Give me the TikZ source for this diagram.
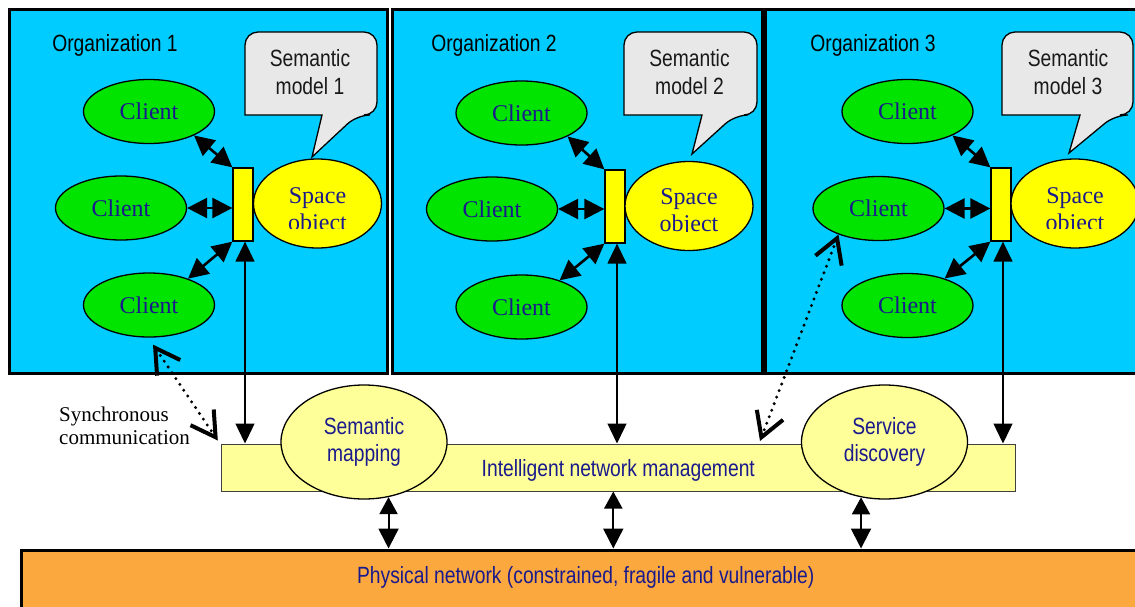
\documentclass[tikz,border=0pt]{standalone}
\usepackage{fontspec}
\setmainfont{Liberation Serif}
\newfontfamily\narrowsans[FakeStretch=0.82]{Liberation Sans}
\usetikzlibrary{shapes.geometric,arrows.meta}

\definecolor{orgblue}{HTML}{00CCFF}
\definecolor{clientgreen}{HTML}{00E400}
\definecolor{baryellow}{HTML}{FFFF00}
\definecolor{paleyellow}{HTML}{FFFF99}
\definecolor{bubblegray}{HTML}{E8E8E8}
\definecolor{netorange}{HTML}{FBA93F}
\definecolor{inkblue}{HTML}{1A1A8C}

\tikzset{
  orgbox/.style={rectangle, draw=black, line width=3pt, fill=orgblue, inner sep=0pt, outer sep=0pt},
  orgtitle/.style={inner sep=0pt, text=black, font=\narrowsans\fontsize{23.5}{28}\selectfont},
  bubble/.style={draw=black, line width=1.3pt, fill=bubblegray},
  bubbletext/.style={inner sep=0pt, align=center, text=black!90, font=\narrowsans\fontsize{23.5}{28.3}\selectfont},
  client/.style={ellipse, draw=black, line width=1.3pt, fill=clientgreen, minimum width=131pt, minimum height=64pt, inner sep=0pt, text=inkblue, font=\fontsize{24}{26}\selectfont},
  portbar/.style={rectangle, draw=black, line width=1.3pt, fill=baryellow, minimum width=20pt, minimum height=73pt, inner sep=0pt},
  spaceobj/.style={ellipse, draw=black, line width=1.3pt, fill=baryellow, minimum width=128pt, minimum height=89pt, inner sep=0pt},
  sotext/.style={inner sep=0pt, align=center, text=inkblue, font=\fontsize{24}{27}\selectfont},
  service/.style={ellipse, draw=black, line width=1.3pt, fill=paleyellow, minimum width=166pt, minimum height=114pt, inner sep=0pt, align=center, text=inkblue, font=\narrowsans\fontsize{23.5}{27}\selectfont},
  bighead/.style={Triangle[length=20pt,width=20pt]},
  link/.style={line width=2.6pt, {Triangle[length=20pt,width=20pt]}-{Triangle[length=20pt,width=20pt]}},
  uplink/.style={line width=1.4pt, {Triangle[length=20pt,width=19pt]}-{Triangle[length=20pt,width=19pt]}},
  downlink/.style={line width=2pt, {Triangle[length=17pt,width=18pt]}-{Triangle[length=20pt,width=20pt]}},
  sync/.style={line width=3.3pt, line cap=round, dash pattern=on 0pt off 7pt,
    {Straight Barb[length=24pt,width=28pt,line width=4pt]}-{Straight Barb[length=24pt,width=28pt,line width=4pt]}},
}

\begin{document}
\begin{tikzpicture}[x=1pt,y=-1pt]
\useasboundingbox (0,0) rectangle (1135,606);
\clip (0,0) rectangle (1135,606);
\fill[white] (0,0) rectangle (1135,606);

% organisations
\node[orgbox, minimum width=378.5pt, minimum height=364pt] (org1) at (198.25,191) {};
\node[orgbox, minimum width=369.5pt, minimum height=364pt] (org2) at (577.25,191) {};
\node[orgbox, minimum width=381pt, minimum height=364pt] (org3) at (956,191) {};

\node[orgtitle] (title1) at (115,45.6) {Organization 1};
\node[orgtitle] (title2) at (494,45.6) {Organization 2};
\node[orgtitle] (title3) at (873,45.6) {Organization 3};

% speech bubbles with the semantic models
\draw[bubble] (312,157) -- (322,115) -- (245,115) [rounded corners=13pt] -- (245,32) -- (377,32) -- (377,115) -- (357,115) [sharp corners] -- cycle;
\draw[bubble] (692,154) -- (702,115) -- (624,115) [rounded corners=13pt] -- (624,32) -- (757,32) -- (757,115) -- (735,115) [sharp corners] -- cycle;
\draw[bubble] (1069,153) -- (1080,115) -- (1002,115) [rounded corners=13pt] -- (1002,32) -- (1133,32) -- (1133,115) -- (1115,115) [sharp corners] -- cycle;
\node[bubbletext] (model1) at (310,72.2) {Semantic\\model 1};
\node[bubbletext] (model2) at (689.5,72.2) {Semantic\\model 2};
\node[bubbletext] (model3) at (1068,72.2) {Semantic\\model 3};

% clients
\node[client] (c11) at (149,111.5) {Client};
\node[client] (c12) at (121,208) {Client};
\node[client] (c13) at (149,305) {Client};
\node[client] (c21) at (521.5,113) {Client};
\node[client] (c22) at (492,209) {Client};
\node[client] (c23) at (521.5,307) {Client};
\node[client] (c31) at (907.5,111.5) {Client};
\node[client] (c32) at (878.5,208.5) {Client};
\node[client] (c33) at (907.5,305.5) {Client};

% access bars and space objects
\node[portbar] (b1) at (243,204.5) {};
\node[portbar] (b2) at (615,206.5) {};
\node[portbar] (b3) at (1001,204.5) {};
\node[spaceobj] (s1) at (317.5,203.5) {};
\node[spaceobj] (s2) at (689,206) {};
\node[spaceobj] (s3) at (1075,203.5) {};
\begin{scope}
  \clip (250,150) rectangle (390,228);
  \node[sotext] (t1) at (317.5,212) {Space\\object};
\end{scope}
\begin{scope}
  \clip (620,150) rectangle (760,231);
  \node[sotext] (t2) at (689,213) {Space\\object};
\end{scope}
\begin{scope}
  \clip (1008,150) rectangle (1140,228);
  \node[sotext] (t3) at (1075,212) {Space\\object};
\end{scope}

% client links
\draw[link] (c11.-28) -- (b1.north west);
\draw[link] (c12.east) -- (c12.east -| b1.west);
\draw[link] (b1.south west) -- (c13.34);
\draw[link] (c21.-27) -- (b2.north west);
\draw[link] (c22.east) -- (c22.east -| b2.west);
\draw[link] (b2.south west) -- (c23.35);
\draw[link] (c31.-28) -- (b3.north west);
\draw[link] (c32.east) -- (c32.east -| b3.west);
\draw[link] (b3.south west) -- (c33.36);

% intelligent network management layer
\node[rectangle, draw=black!75, line width=1pt, fill=paleyellow, minimum width=794pt, minimum height=47pt, inner sep=0pt, text depth=0pt, text=inkblue, font=\narrowsans\fontsize{23.5}{28}\selectfont] (net) at (618.3,467.5) {Intelligent network management};

\draw[uplink] ([xshift=2pt]b1.south) -- ([xshift=2pt]b1.south |- net.north);
\draw[uplink] ([xshift=2pt]b2.south) -- ([xshift=2pt]b2.south |- net.north);
\draw[uplink] ([xshift=2pt]b3.south) -- ([xshift=2pt]b3.south |- net.north);

\node[service] (sm) at (364,442) {Semantic\\mapping};
\node[service] (sd) at (884.5,442) {Service\\discovery};

% physical network
\node[rectangle, draw=black, line width=3pt, fill=netorange, minimum width=1128.5pt, minimum height=62pt, inner sep=0pt, text depth=13pt, text=inkblue, font=\narrowsans\fontsize{23.5}{28}\selectfont] (phys) at (585.75,581) {Physical network (constrained, fragile and vulnerable)};

\draw[downlink] (sm.-66) -- (sm.-66 |- phys.north);
\draw[downlink] ([xshift=-5pt]net.south) -- ([xshift=-5pt]net.south |- phys.north);
\draw[downlink] (sd.-113) -- (sd.-113 |- phys.north);

% synchronous communication
\coordinate (d3) at (760,441);
\draw[sync] ([xshift=4pt,yshift=-7pt]c13.south) -- ([xshift=-3pt,yshift=3pt]net.north west);
\draw[sync] (c32.-147) -- (d3);
\node[anchor=north west, inner sep=0pt, align=left, font=\fontsize{21}{23}\selectfont] (synclabel) at (59,406.7) {Synchronous\\communication};
\end{tikzpicture}
\end{document}
